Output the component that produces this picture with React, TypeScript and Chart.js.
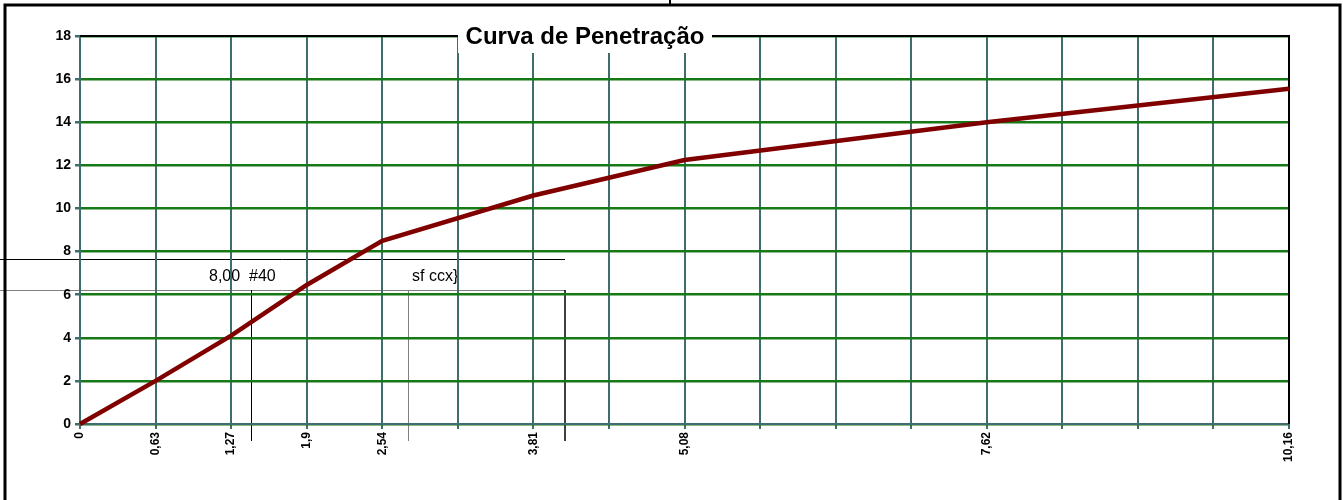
import React, { useEffect, useRef } from "react";
import { Chart, registerables } from "chart.js";

Chart.register(...registerables);

// ---- data ----
const penetrationMm = [0, 0.635, 1.27, 1.905, 2.54, 3.81, 5.08, 7.62, 10.16];
const loadValues = [0, 2.0, 4.1, 6.45, 8.5, 10.6, 12.25, 14.0, 15.55];
const xTickValues = [
  0, 0.635, 1.27, 1.905, 2.54, 3.175, 3.81, 4.445, 5.08, 5.715, 6.35, 6.985,
  7.62, 8.255, 8.89, 9.525, 10.16,
];
const xTickLabels = [
  "0", "0,63", "1,27", "1,9", "2,54", "", "3,81", "", "5,08", "", "", "",
  "7,62", "", "", "", "10,16",
];
const yTickValues = [0, 2, 4, 6, 8, 10, 12, 14, 16, 18];
const chartTitle = "Curva de Penetração";
const noteLeft = "8,00  #40";
const noteRight = "sf ccx}";

const SLATE = "#3f6c6c";
const GREEN = "#157a15";
const FONT = "'Liberation Sans', Arial, sans-serif";

const overlayPlugin = {
  id: "overlay",
  beforeDraw(chart: any) {
    const ctx = chart.ctx;
    ctx.save();
    ctx.fillStyle = "#ffffff";
    ctx.fillRect(0, 0, chart.width, chart.height);
    // leftover spreadsheet lines
    ctx.lineWidth = 1;
    ctx.strokeStyle = "#000000";
    ctx.beginPath();
    ctx.moveTo(0, 259.5);
    ctx.lineTo(565, 259.5);
    ctx.stroke();
    ctx.strokeStyle = "#808080";
    ctx.beginPath();
    ctx.moveTo(0, 290.5);
    ctx.lineTo(565, 290.5);
    ctx.stroke();
    ctx.strokeStyle = "#000000";
    ctx.beginPath();
    ctx.moveTo(251.5, 290);
    ctx.lineTo(251.5, 441);
    ctx.stroke();
    ctx.strokeStyle = "#808080";
    ctx.beginPath();
    ctx.moveTo(408.5, 290);
    ctx.lineTo(408.5, 441);
    ctx.stroke();
    ctx.strokeStyle = "#000000";
    ctx.lineWidth = 1.5;
    ctx.beginPath();
    ctx.moveTo(565, 290);
    ctx.lineTo(565, 441);
    ctx.stroke();
    ctx.fillStyle = "#000000";
    ctx.font = `16px ${FONT}`;
    ctx.textBaseline = "middle";
    ctx.textAlign = "left";
    ctx.fillText(noteLeft, 209, 277);
    ctx.fillText(noteRight, 412, 277);
    ctx.restore();
  },
  beforeDatasetsDraw(chart: any) {
    const { ctx, chartArea } = chart;
    ctx.save();
    ctx.strokeStyle = "#000000";
    ctx.lineWidth = 2;
    ctx.beginPath();
    ctx.moveTo(chartArea.left, chartArea.top);
    ctx.lineTo(chartArea.right, chartArea.top);
    ctx.lineTo(chartArea.right, chartArea.bottom);
    ctx.stroke();
    ctx.restore();
  },
  afterDraw(chart: any) {
    const ctx = chart.ctx;
    ctx.save();
    // title box
    ctx.fillStyle = "#ffffff";
    ctx.fillRect(458, 18, 254, 35);
    ctx.fillStyle = "#000000";
    ctx.font = `bold 24px ${FONT}`;
    ctx.textAlign = "center";
    ctx.textBaseline = "middle";
    ctx.fillText(chartTitle, 585, 37);
    // outer frame
    ctx.strokeStyle = "#000000";
    ctx.lineWidth = 3;
    ctx.beginPath();
    ctx.moveTo(5, 500);
    ctx.lineTo(5, 5);
    ctx.lineTo(1340, 5);
    ctx.lineTo(1340, 500);
    ctx.stroke();
    ctx.lineWidth = 2;
    ctx.beginPath();
    ctx.moveTo(670, 0);
    ctx.lineTo(670, 5);
    ctx.stroke();
    ctx.restore();
  },
};

export default function App() {
  const ref = useRef<HTMLCanvasElement | null>(null);
  useEffect(() => {
    document.body.style.margin = "0";
    if (!ref.current) return;
    const chart = new Chart(ref.current, {
      type: "line",
      data: {
        datasets: [
          {
            label: "Curva",
            data: penetrationMm.map((x, i) => ({ x, y: loadValues[i] })),
            borderColor: "#800000",
            borderWidth: 4.5,
            pointRadius: 0,
            tension: 0,
            clip: false,
          },
        ],
      },
      options: {
        responsive: false,
        animation: false,
        devicePixelRatio: 1,
        layout: { padding: { left: 0, top: 36, right: 54, bottom: 0 } },
        plugins: {
          legend: { display: false },
          title: { display: false },
          tooltip: { enabled: false },
        },
        scales: {
          x: {
            type: "linear",
            min: 0,
            max: 10.16,
            afterBuildTicks: (s: any) => {
              s.ticks = xTickValues.map((v) => ({ value: v }));
            },
            afterFit: (s: any) => {
              s.height = 76;
            },
            ticks: {
              autoSkip: false,
              minRotation: 90,
              maxRotation: 90,
              padding: 3,
              color: "#000000",
              font: { family: FONT, size: 12, weight: "bold" },
              callback: (_v: any, i: number) => xTickLabels[i],
            },
            grid: {
              color: SLATE,
              lineWidth: 2,
              tickLength: 5,
              tickColor: SLATE,
            },
            border: { color: SLATE, width: 2 },
          },
          y: {
            type: "linear",
            min: 0,
            max: 18,
            afterBuildTicks: (s: any) => {
              s.ticks = yTickValues.map((v) => ({ value: v }));
            },
            afterFit: (s: any) => {
              s.width = 80;
            },
            ticks: {
              padding: 4,
              color: "#000000",
              font: { family: FONT, size: 14, weight: "bold" },
              callback: (v: any) => String(v),
            },
            grid: {
              color: GREEN,
              lineWidth: 2.5,
              tickLength: 5,
              tickColor: SLATE,
            },
            border: { color: SLATE, width: 2 },
          },
        },
      },
      plugins: [overlayPlugin],
    } as any);
    return () => chart.destroy();
  }, []);
  return <canvas ref={ref} width={1343} height={500} style={{ display: "block" }} />;
}
